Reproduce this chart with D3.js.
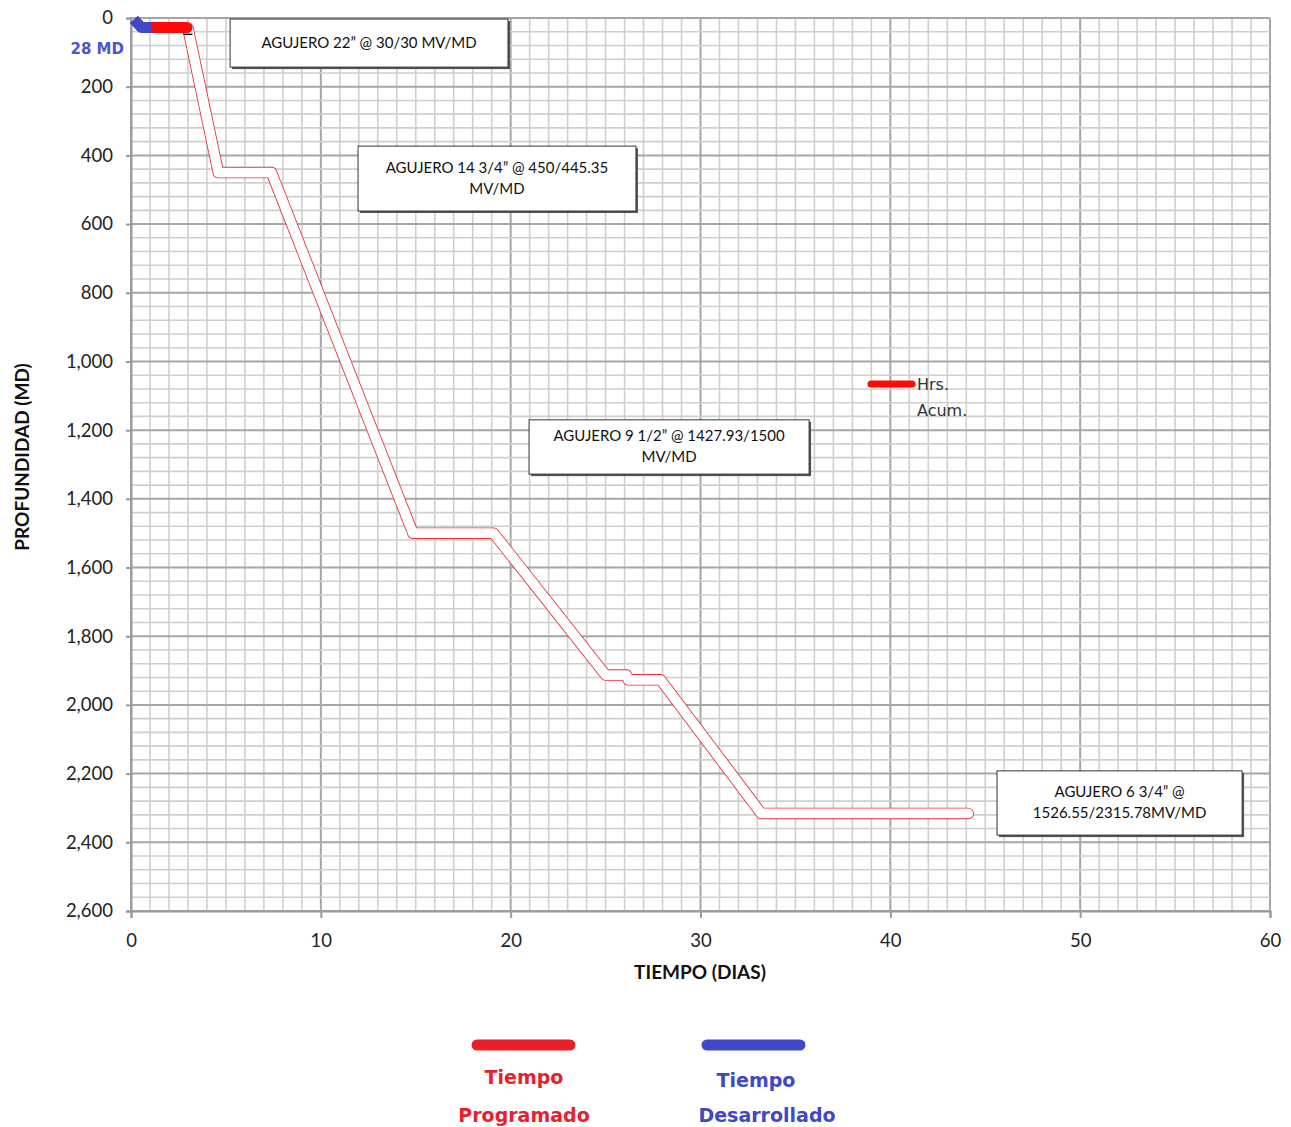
<!DOCTYPE html>
<html><head><meta charset="utf-8">
<script src="https://cdn.jsdelivr.net/npm/d3@7"></script>
<style>body{margin:0;background:#fff} svg{display:block}</style>
</head><body>
<svg id="c" width="1291" height="1127"></svg>
<script>
// ---- data ----
const programDays  = [3.0, 4.6, 7.4, 14.85, 19.1, 25.0, 26.1, 26.2, 27.9, 33.2, 44.1];
const programDepth = [30, 450, 450, 1500, 1500, 1913, 1913, 1927, 1927, 2316, 2316];
const hrsDays  = [0.7, 2.95];
const hrsDepth = [28, 28];
const realDays  = [0.15, 0.55, 1.1];
const realDepth = [4, 28, 28];
const yTicks = [0,200,400,600,800,1000,1200,1400,1600,1800,2000,2200,2400,2600];
const xTicks = [0,10,20,30,40,50,60];
const notes = [
  {lines:["AGUJERO 22” @ 30/30 MV/MD"], x0:5.22, x1:19.86, d0:3, d1:143},
  {lines:["AGUJERO 14 3/4” @ 450/445.35","MV/MD"], x0:11.96, x1:26.6, d0:373, d1:562},
  {lines:["AGUJERO 9 1/2” @ 1427.93/1500","MV/MD"], x0:20.97, x1:35.72, d0:1170, d1:1328},
  {lines:["AGUJERO 6 3/4” @","1526.55/2315.78MV/MD"], x0:45.62, x1:58.53, d0:2192, d1:2379}
];

// ---- layout ----
const svg = d3.select("#c");
const L = 131, T = 18, R = 1270, B = 911;
const x = d3.scaleLinear().domain([0,60]).range([L,R]);
const y = d3.scaleLinear().domain([0,2600]).range([T,B]);

// grid
const g = svg.append("g");
d3.range(0,61,1).forEach(v=>{
  g.append("line").attr("x1",x(v)).attr("x2",x(v)).attr("y1",T).attr("y2",B)
   .attr("stroke", v%10===0 ? "#a6a6a6" : "#cfcfcf").attr("stroke-width", v%10===0?2:1.6);
});
d3.range(0,2601,40).forEach(v=>{
  g.append("line").attr("x1",L).attr("x2",R).attr("y1",y(v)).attr("y2",y(v))
   .attr("stroke", v%200===0 ? "#a6a6a6" : "#cfcfcf").attr("stroke-width", v%200===0?2:1.6);
});

// axes
const yAxis = d3.axisLeft(y).tickValues(yTicks).tickSize(5).tickPadding(13).tickFormat(d3.format(","));
const xAxis = d3.axisBottom(x).tickValues(xTicks).tickSize(7).tickPadding(16).tickFormat(d3.format("d"));
const ya = svg.append("g").attr("transform",`translate(${L},0)`).call(yAxis);
const xa = svg.append("g").attr("transform",`translate(0,${B})`).call(xAxis);
[ya,xa].forEach(a=>{
  a.select(".domain").attr("stroke","#9a9a9a").attr("stroke-width",2);
  a.selectAll(".tick line").attr("stroke","#9a9a9a").attr("stroke-width",2);
  a.selectAll("text").attr("font-family","Lato").attr("font-size",18.5).attr("fill","#222");
});

// axis titles
svg.append("text").attr("x",700).attr("y",979).attr("text-anchor","middle")
  .attr("font-family","Lato").attr("font-weight","bold").attr("font-size",19).attr("fill","#111")
  .text("TIEMPO (DIAS)");
svg.append("text").attr("transform","translate(29,457) rotate(-90)").attr("text-anchor","middle")
  .attr("font-family","Lato").attr("font-weight","bold").attr("font-size",19).attr("fill","#111")
  .text("PROFUNDIDAD (MD)");

// annotation boxes
notes.forEach(n=>{
  const bx = x(n.x0), by = y(n.d0), bw = x(n.x1)-x(n.x0), bh = y(n.d1)-y(n.d0);
  svg.append("rect").attr("x",bx+2).attr("y",by+2).attr("width",bw).attr("height",bh).attr("fill","#555");
  svg.append("rect").attr("x",bx).attr("y",by).attr("width",bw).attr("height",bh)
    .attr("fill","#fff").attr("stroke","#333").attr("stroke-width",1);
  const cy = by + bh/2, lh = 21;
  n.lines.forEach((t,i)=>{
    svg.append("text").attr("x",bx+bw/2).attr("y",cy + (i-(n.lines.length-1)/2)*lh + 5)
      .attr("text-anchor","middle").attr("font-family","Lato").attr("font-size",15).attr("fill","#111")
      .text(t);
  });
});

// program line (hollow)
const pts = programDays.map((d,i)=>[d, programDepth[i]]);
const line = d3.line().x(d=>x(d[0])).y(d=>y(d[1]));
svg.append("path").attr("d",line(pts)).attr("fill","none").attr("stroke","#e8303a")
  .attr("stroke-width",11.5).attr("stroke-linejoin","round").attr("stroke-linecap","round");
svg.append("path").attr("d",line(pts)).attr("fill","none").attr("stroke","#fff")
  .attr("stroke-width",9.8).attr("stroke-linejoin","round").attr("stroke-linecap","round");
// start marker
svg.append("line").attr("x1",x(programDays[0])-4.5).attr("x2",x(programDays[0])+4.5)
  .attr("y1",y(programDepth[0])+6).attr("y2",y(programDepth[0])+6).attr("stroke","#111").attr("stroke-width",1.5);

// hrs acum
const hp = hrsDays.map((d,i)=>[d, hrsDepth[i]]);
svg.append("path").attr("d",line(hp)).attr("fill","none").attr("stroke","#ff0a0a")
  .attr("stroke-width",11).attr("stroke-linecap","round").attr("stroke-linejoin","round");
// real
const rp = realDays.map((d,i)=>[d, realDepth[i]]);
svg.append("path").attr("d",line(rp)).attr("fill","none").attr("stroke","#4048c8")
  .attr("stroke-width",11).attr("stroke-linecap","butt").attr("stroke-linejoin","round");

svg.append("text").attr("x",124).attr("y",54).attr("text-anchor","end")
  .attr("font-family","DejaVu Sans").attr("font-weight","bold").attr("font-size",15).attr("fill","#4a55d0")
  .text("28 MD");

// Hrs. Acum. legend
svg.append("line").attr("x1",871).attr("x2",912).attr("y1",384).attr("y2",384)
  .attr("stroke","#ff0a0a").attr("stroke-width",7).attr("stroke-linecap","round");
svg.append("text").attr("x",917).attr("y",390).attr("font-family","DejaVu Sans").attr("font-size",16).attr("fill","#333").text("Hrs.");
svg.append("text").attr("x",917).attr("y",416).attr("font-family","DejaVu Sans").attr("font-size",16).attr("fill","#333").text("Acum.");

// bottom legend
const leg = [
  {c:"#e8202a", x1:477, x2:570, t1:"Tiempo", t2:"Programado", tx:524, ty1:1084, ty2:1122},
  {c:"#4048c8", x1:707, x2:800, t1:"Tiempo", t2:"Desarrollado", tx1:756, tx:767, ty1:1087, ty2:1122}
];
leg.forEach(l=>{
  svg.append("line").attr("x1",l.x1).attr("x2",l.x2).attr("y1",1045).attr("y2",1045)
    .attr("stroke",l.c).attr("stroke-width",11).attr("stroke-linecap","round");
  svg.append("text").attr("x",l.tx1||l.tx).attr("y",l.ty1).attr("text-anchor","middle")
    .attr("font-family","DejaVu Sans").attr("font-weight","bold").attr("font-size",19).attr("fill",l.c).text(l.t1);
  svg.append("text").attr("x",l.tx).attr("y",l.ty2).attr("text-anchor","middle")
    .attr("font-family","DejaVu Sans").attr("font-weight","bold").attr("font-size",19).attr("fill",l.c).text(l.t2);
});
</script>
</body></html>
